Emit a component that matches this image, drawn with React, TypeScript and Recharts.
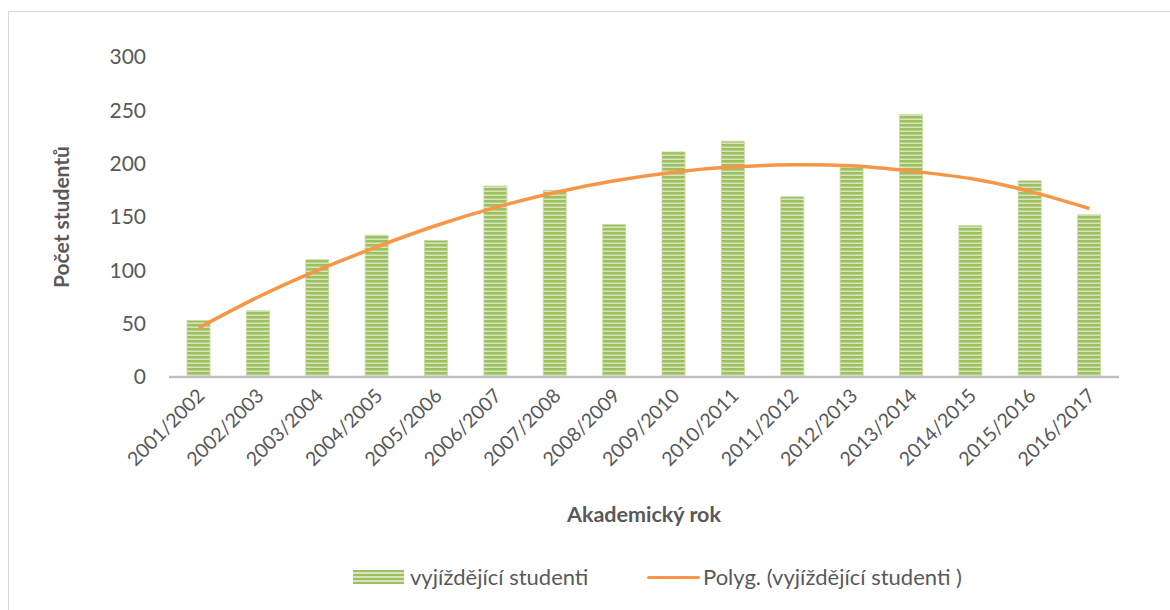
import { ComposedChart, Bar, Line, XAxis, YAxis } from "recharts";

const years = [
  "2001/2002", "2002/2003", "2003/2004", "2004/2005", "2005/2006", "2006/2007",
  "2007/2008", "2008/2009", "2009/2010", "2010/2011", "2011/2012", "2012/2013",
  "2013/2014", "2014/2015", "2015/2016", "2016/2017",
];
const students = [53, 62, 110, 133, 128, 179, 175, 143, 211, 221, 169, 198, 246, 142, 184, 152];
const trend = [46, 75, 100, 122, 142, 159, 173, 184, 192, 197, 199, 198, 193, 186, 174, 158];
const yTicks = [0, 50, 100, 150, 200, 250, 300];

const data = years.map((year, i) => ({ year, students: students[i], trend: trend[i] }));

const FONT = "Lato, 'Liberation Sans', sans-serif";
const TEXT = "#595959";
const ORANGE = "#F79646";

const XTick = (props: any) => {
  const { x, y, payload } = props;
  const tx = x + 7;
  const ty = y + 12;
  return (
    <text x={tx} y={ty} transform={`rotate(-45, ${tx}, ${ty})`} textAnchor="end"
      fill={TEXT} fontSize={19.5} fontFamily={FONT}>
      {payload.value}
    </text>
  );
};

function LegendOverlay() {
  return (
    <div style={{ position: "absolute", left: 0, top: 564, width: 1170, fontFamily: FONT, fontSize: 22, lineHeight: "26px", color: TEXT }}>
      <div style={{ position: "absolute", left: 353, top: 6, width: 51, height: 14,
        background: "repeating-linear-gradient(180deg, #9DBF5E 0px, #9DBF5E 2.5px, #D6E5BC 2.5px, #D6E5BC 4px)" }} />
      <span style={{ position: "absolute", left: 410, top: 0, whiteSpace: "nowrap" }}>vyjíždějící studenti</span>
      <div style={{ position: "absolute", left: 647, top: 12, width: 53, height: 3, background: ORANGE, borderRadius: 2 }} />
      <span style={{ position: "absolute", left: 703, top: 0, whiteSpace: "nowrap" }}>Polyg. (vyjíždějící studenti )</span>
    </div>
  );
}

export default function App() {
  return (
    <div style={{ position: "absolute", left: 0, top: 0, width: 1170, height: 610, background: "#fff", overflow: "hidden" }}>
      <div style={{ position: "absolute", left: 8, top: 11, width: 1180, height: 620, border: "1px solid #D9D9D9" }} />
      <ComposedChart width={1170} height={610} data={data}
        margin={{ top: 57, right: 51, left: 49, bottom: 83 }}
        style={{ position: "absolute", left: 0, top: 0 }}>
        <defs>
          <pattern id="stripes" width="8" height="4" patternUnits="userSpaceOnUse">
            <rect width="8" height="4" fill="#9DBF5E" />
            <rect y="2.5" width="8" height="1.5" fill="#D6E5BC" />
          </pattern>
        </defs>
        <XAxis dataKey="year" interval={0} height={150} tickLine={false}
          axisLine={{ stroke: "#BFBFBF", strokeWidth: 2.5 }}
          tick={<XTick />}
          label={{ value: "Akademický rok", position: "insideBottom", offset: 5,
            style: { fill: TEXT, fontSize: 21.5, fontWeight: 700, fontFamily: FONT } }} />
        <YAxis domain={[0, 300]} ticks={yTicks} width={120} axisLine={false} tickLine={false}
          tickMargin={17}
          tick={{ fill: TEXT, fontSize: 21, fontFamily: FONT }}
          label={{ value: "Počet studentů", angle: -90, position: "insideLeft", offset: 13,
            style: { fill: TEXT, fontSize: 21, fontWeight: 700, fontFamily: FONT, textAnchor: "middle" } }} />
        <Bar dataKey="students" barSize={23} fill="url(#stripes)" stroke="#C6D9A0" strokeWidth={0.8}
          isAnimationActive={false} />
        <Line dataKey="trend" type="natural" stroke={ORANGE} strokeWidth={3.5} dot={false}
          isAnimationActive={false} />
      </ComposedChart>
      <LegendOverlay />
    </div>
  );
}
